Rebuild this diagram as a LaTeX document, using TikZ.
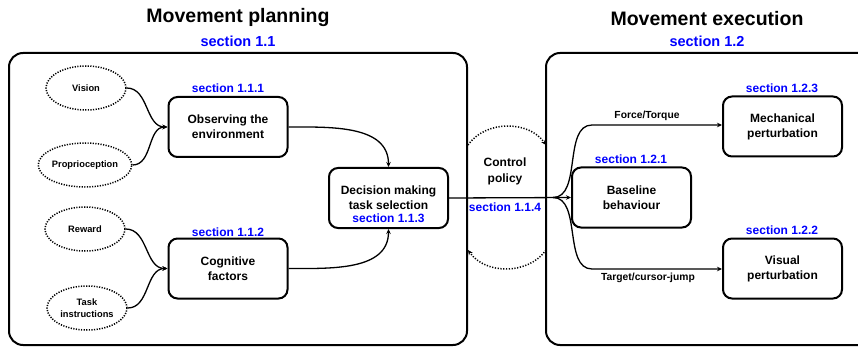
\documentclass[tikz,border=0pt]{standalone}
\usepackage{fontspec}
\setmainfont{Liberation Sans}
\usetikzlibrary{shapes.geometric,arrows.meta}
\begin{document}
\begin{tikzpicture}[x=1pt,y=-1pt,
 bigbox/.style={draw, line width=2pt, rounded corners=14pt, inner sep=0pt},
 box/.style={draw, line width=2pt, rounded corners=9pt, minimum width=119pt, minimum height=60pt, align=center, font=\bfseries\fontsize{12}{15}\selectfont, inner sep=0pt},
 oval/.style={draw, ellipse, line width=1.5pt, dash pattern=on 1.2pt off 1.4pt, minimum width=80pt, minimum height=44pt, inner sep=0pt, align=center, font=\bfseries\fontsize{9.3}{12.5}\selectfont},
 sec/.style={text=blue, font=\bfseries\fontsize{12}{13}\selectfont, inner sep=0pt},
 bigsec/.style={text=blue, font=\bfseries\fontsize{14.5}{15}\selectfont, inner sep=0pt},
 title/.style={font=\bfseries\fontsize{19.5}{20}\selectfont, inner sep=0pt},
 arr/.style={line width=1.3pt, -{Stealth[length=5pt,width=4.5pt]}},
 dotarr/.style={line width=1.5pt, dash pattern=on 1.2pt off 1.6pt, -{Stealth[length=5pt,width=4.5pt]}},
 lab/.style={font=\bfseries\fontsize{10.3}{11}\selectfont, inner sep=0pt},
 dtext/.style={font=\bfseries\fontsize{12}{15}\selectfont, inner sep=0pt},
 cp/.style={font=\bfseries\fontsize{12}{16}\selectfont, align=center, inner sep=0pt}
]
\useasboundingbox (0,0) rectangle (858,347);
% outer boxes
\node[bigbox, minimum width=458pt, minimum height=292pt] (plan) at (238,199) {};
\node[bigbox, minimum width=330pt, minimum height=292pt] (exec) at (711,199) {};
\node[title] (t1) at (238,18) {Movement planning};
\node[bigsec] (s1) at (238,41) {section 1.1};
\node[title] (t2) at (707,19) {Movement execution};
\node[bigsec] (s2) at (707,41) {section 1.2};
% ellipses
\node[oval] (vis) at (86,88) {Vision};
\node[oval] (prop) at (85,165) {Proprioception};
\node[oval] (rew) at (85,229) {Reward};
\node[oval] (task) at (87,308) {Task\\instructions};
% boxes
\node[box] (obs) at (228,127) {Observing the\\environment};
\node[sec] (s111) at (228,88) {section 1.1.1};
\node[box] (cog) at (228,268.5) {Cognitive\\factors};
\node[sec] (s112) at (228,232) {section 1.1.2};
\node[box] (dec) at (388.5,198) {};
\node[dtext] (dt1) at (388.5,191) {Decision making};
\node[dtext] (dt2) at (388.5,205.5) {task selection};
\node[sec] (s113) at (388.5,218) {section 1.1.3};
\node[box] (base) at (631.5,197.5) {Baseline\\behaviour};
\node[sec] (s121) at (631,159) {section 1.2.1};
\node[box] (mech) at (782.5,126.5) {Mechanical\\perturbation};
\node[sec] (s123) at (782,88) {section 1.2.3};
\node[box] (visp) at (782.5,268.5) {Visual\\perturbation};
\node[sec] (s122) at (782,230) {section 1.2.2};
% control policy
\node[cp] (cpol) at (505,171) {Control\\policy};
\node[sec] (s114) at (505,207) {section 1.1.4};
% connectors left
\draw[arr] (vis.east) to[out=0,in=180] (obs.west);
\draw[arr] (prop.east) to[out=0,in=180] (obs.west);
\draw[arr] (rew.east) to[out=0,in=180] (cog.west);
\draw[arr] (task.east) to[out=0,in=180] (cog.west);
\draw[arr] (obs.east) to[out=0,in=90] (dec.north);
\draw[arr] (cog.east) to[out=0,in=-90] (dec.south);
% right connectors
\coordinate (br) at (553,197.5);
\draw[arr] (dec.east) -- (base.west);
\draw[arr] (br) to[out=0,in=180,looseness=0.9] (592,125) -- (mech.west |- 0,125);
\draw[arr] (br) to[out=0,in=180,looseness=0.9] (592,269) -- (visp.west |- 0,269);
\node[lab] (ft) at (647,116) {Force/Torque};
\node[lab] (tc) at (648,278) {Target/cursor-jump};
% dotted arcs
\coordinate (a1) at (468,145);
\coordinate (a2) at (546,145);
\coordinate (a3) at (546,250);
\coordinate (a4) at (468,250);
\draw[dotarr] (a1) to[out=55,in=125] (a2);
\draw[dotarr] (a3) to[out=-125,in=-55] (a4);
\end{tikzpicture}
\end{document}
